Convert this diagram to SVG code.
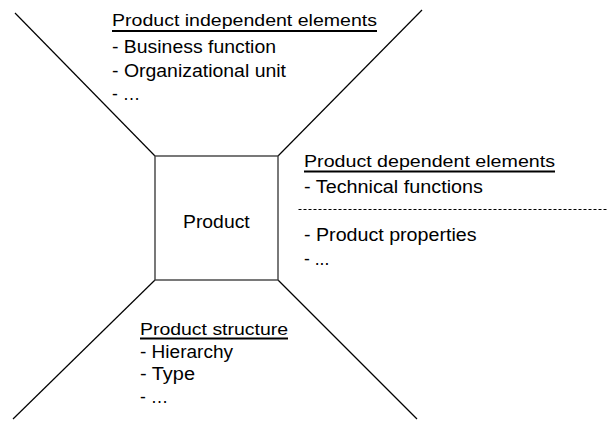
<svg xmlns="http://www.w3.org/2000/svg" width="608" height="421" viewBox="0 0 608 421">
  <style>
    text { font-family: "Liberation Sans", Arial, sans-serif; fill: #000; }
    .head { font-size: 16px; }
    .item { font-size: 17.5px; }
    .ray { stroke: #000; stroke-width: 1.2; fill: none; }
    .rule { stroke: #000; stroke-width: 2; }
    .dash { stroke: #000; stroke-width: 1; stroke-dasharray: 3 2; }
  </style>
  <rect width="608" height="421" fill="#fff"/>

  <!-- diagonal rays from the box corners -->
  <g id="connectors">
    <line class="ray" x1="15" y1="13" x2="155" y2="156"/>
    <line class="ray" x1="422" y1="10" x2="278" y2="156"/>
    <line class="ray" x1="155" y1="280" x2="13" y2="419"/>
    <line class="ray" x1="278" y1="280" x2="417" y2="419"/>
  </g>

  <!-- central product box -->
  <g id="product">
    <rect x="155" y="156" width="123" height="124" fill="#fff" stroke="#404040" stroke-width="1.4"/>
    <text class="item" x="183" y="227.5" textLength="66.7" lengthAdjust="spacingAndGlyphs">Product</text>
  </g>

  <!-- upper section -->
  <g id="independent">
    <text class="head" x="112" y="26" textLength="265" lengthAdjust="spacingAndGlyphs">Product independent elements</text>
    <line class="rule" x1="112" y1="31" x2="377" y2="31"/>
    <text class="item" x="112" y="53" textLength="164" lengthAdjust="spacingAndGlyphs">- Business function</text>
    <text class="item" x="112" y="77" textLength="174" lengthAdjust="spacingAndGlyphs">- Organizational unit</text>
    <text class="item" x="112" y="100">- …</text>
  </g>

  <!-- right section -->
  <g id="dependent">
    <text class="head" x="304" y="166.5" textLength="251" lengthAdjust="spacingAndGlyphs">Product dependent elements</text>
    <line class="rule" x1="304" y1="171.5" x2="555" y2="171.5"/>
    <text class="item" x="304" y="193.3" textLength="179" lengthAdjust="spacingAndGlyphs">- Technical functions</text>
    <line class="dash" x1="298.5" y1="209.5" x2="608" y2="209.5"/>
    <text class="item" x="304" y="241" textLength="172.5" lengthAdjust="spacingAndGlyphs">- Product properties</text>
    <text class="item" x="304" y="265">- ...</text>
  </g>

  <!-- lower section -->
  <g id="structure">
    <text class="head" x="140" y="335" textLength="148" lengthAdjust="spacingAndGlyphs">Product structure</text>
    <line class="rule" x1="140" y1="338.5" x2="288" y2="338.5"/>
    <text class="item" x="140" y="358.3" textLength="93" lengthAdjust="spacingAndGlyphs">- Hierarchy</text>
    <text class="item" x="140" y="380" textLength="55" lengthAdjust="spacingAndGlyphs">- Type</text>
    <text class="item" x="140" y="403">- …</text>
  </g>
</svg>
